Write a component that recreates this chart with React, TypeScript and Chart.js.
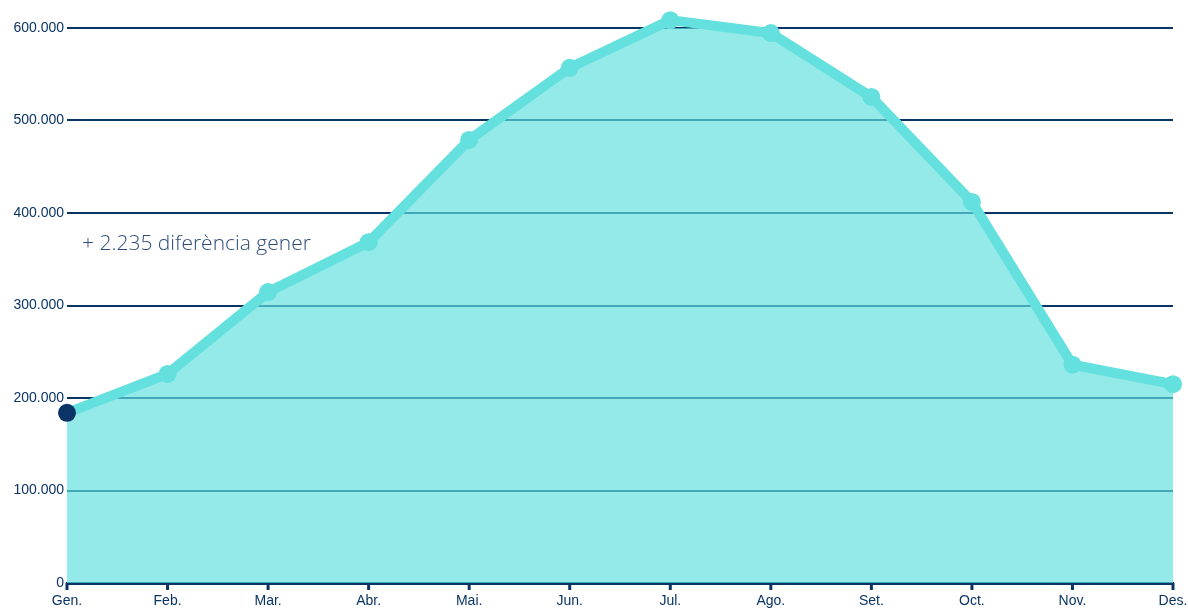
import React, { useEffect, useRef } from "react";
import { Chart, registerables } from "chart.js";

Chart.register(...registerables);

const months = ["Gen.", "Feb.", "Mar.", "Abr.", "Mai.", "Jun.", "Jul.", "Ago.", "Set.", "Oct.", "Nov.", "Des."];
const visitors = [184000, 226000, 314500, 368500, 479000, 557000, 608500, 594500, 525500, 412000, 236000, 215000];
const annotationText = "+ 2.235 diferència gener";

const NAVY = "#0b3466";
const TEAL = "#64e0de";

function fmt(v: number): string {
  return String(Math.round(v)).replace(/\B(?=(\d{3})+(?!\d))/g, ".");
}

const annotationPlugin = {
  id: "annotationText",
  afterDatasetsDraw(chart: any) {
    const { ctx, chartArea } = chart;
    ctx.save();
    ctx.font = "300 21px 'Open Sans'";
    ctx.fillStyle = "#2e4d78";
    ctx.textBaseline = "alphabetic";
    ctx.textAlign = "left";
    ctx.fillText(annotationText, chartArea.left + 15, 250);
    ctx.restore();
  },
};

export default function App() {
  const ref = useRef<HTMLCanvasElement>(null);
  useEffect(() => {
    if (!ref.current) return;
    const chart = new Chart(ref.current, {
      type: "line",
      data: {
        labels: months,
        datasets: [
          {
            data: visitors,
            borderColor: TEAL,
            backgroundColor: "rgba(98,224,221,0.68)",
            fill: "origin",
            borderWidth: 10,
            pointRadius: 9,
            pointHoverRadius: 9,
            pointBorderWidth: 0,
            pointBackgroundColor: visitors.map((_, i) => (i === 0 ? NAVY : TEAL)),
            pointBorderColor: TEAL,
            tension: 0,
            clip: false as any,
          },
        ],
      },
      options: {
        animation: false,
        responsive: true,
        maintainAspectRatio: false,
        layout: { padding: { top: 28, right: 0, left: 0, bottom: 0 } },
        plugins: { legend: { display: false }, tooltip: { enabled: false } },
        scales: {
          x: {
            offset: false,
            grid: { display: false, drawOnChartArea: false, drawTicks: false },
            border: { display: true, color: NAVY, width: 3 },
            ticks: {
              color: NAVY,
              font: { family: "'Liberation Sans', Arial, sans-serif", size: 14 },
              padding: 10,
              maxRotation: 0,
              autoSkip: false,
            },
            afterFit: (s: any) => {
              s.height = 26;
              s.paddingLeft = 0;
              s.paddingRight = 15;
            },
          },
          y: {
            min: 0,
            max: 600000,
            border: { display: false },
            grid: { color: NAVY, lineWidth: 2, drawTicks: false },
            ticks: {
              stepSize: 100000,
              color: NAVY,
              padding: 3,
              font: { family: "'Liberation Sans', Arial, sans-serif", size: 14 },
              callback: (v: any) => fmt(Number(v)),
            },
            afterFit: (s: any) => {
              s.width = 67;
              s.paddingTop = 0;
              s.paddingBottom = 0;
            },
          },
        },
      },
      plugins: [
        annotationPlugin,
        {
          id: "xTicks",
          afterDraw(chart: any) {
            const { ctx, chartArea, scales } = chart;
            ctx.save();
            ctx.strokeStyle = NAVY;
            ctx.lineWidth = 3;
            months.forEach((_, i) => {
              const x = scales.x.getPixelForValue(i);
              ctx.beginPath();
              ctx.moveTo(x, chartArea.bottom);
              ctx.lineTo(x, chartArea.bottom + 7);
              ctx.stroke();
            });
            ctx.restore();
          },
        },
      ],
    });
    return () => chart.destroy();
  }, []);
  return (
    <div style={{ position: "fixed", left: 0, top: 0, width: 1188, height: 609, background: "#fff" }}>
      <canvas ref={ref} />
    </div>
  );
}
